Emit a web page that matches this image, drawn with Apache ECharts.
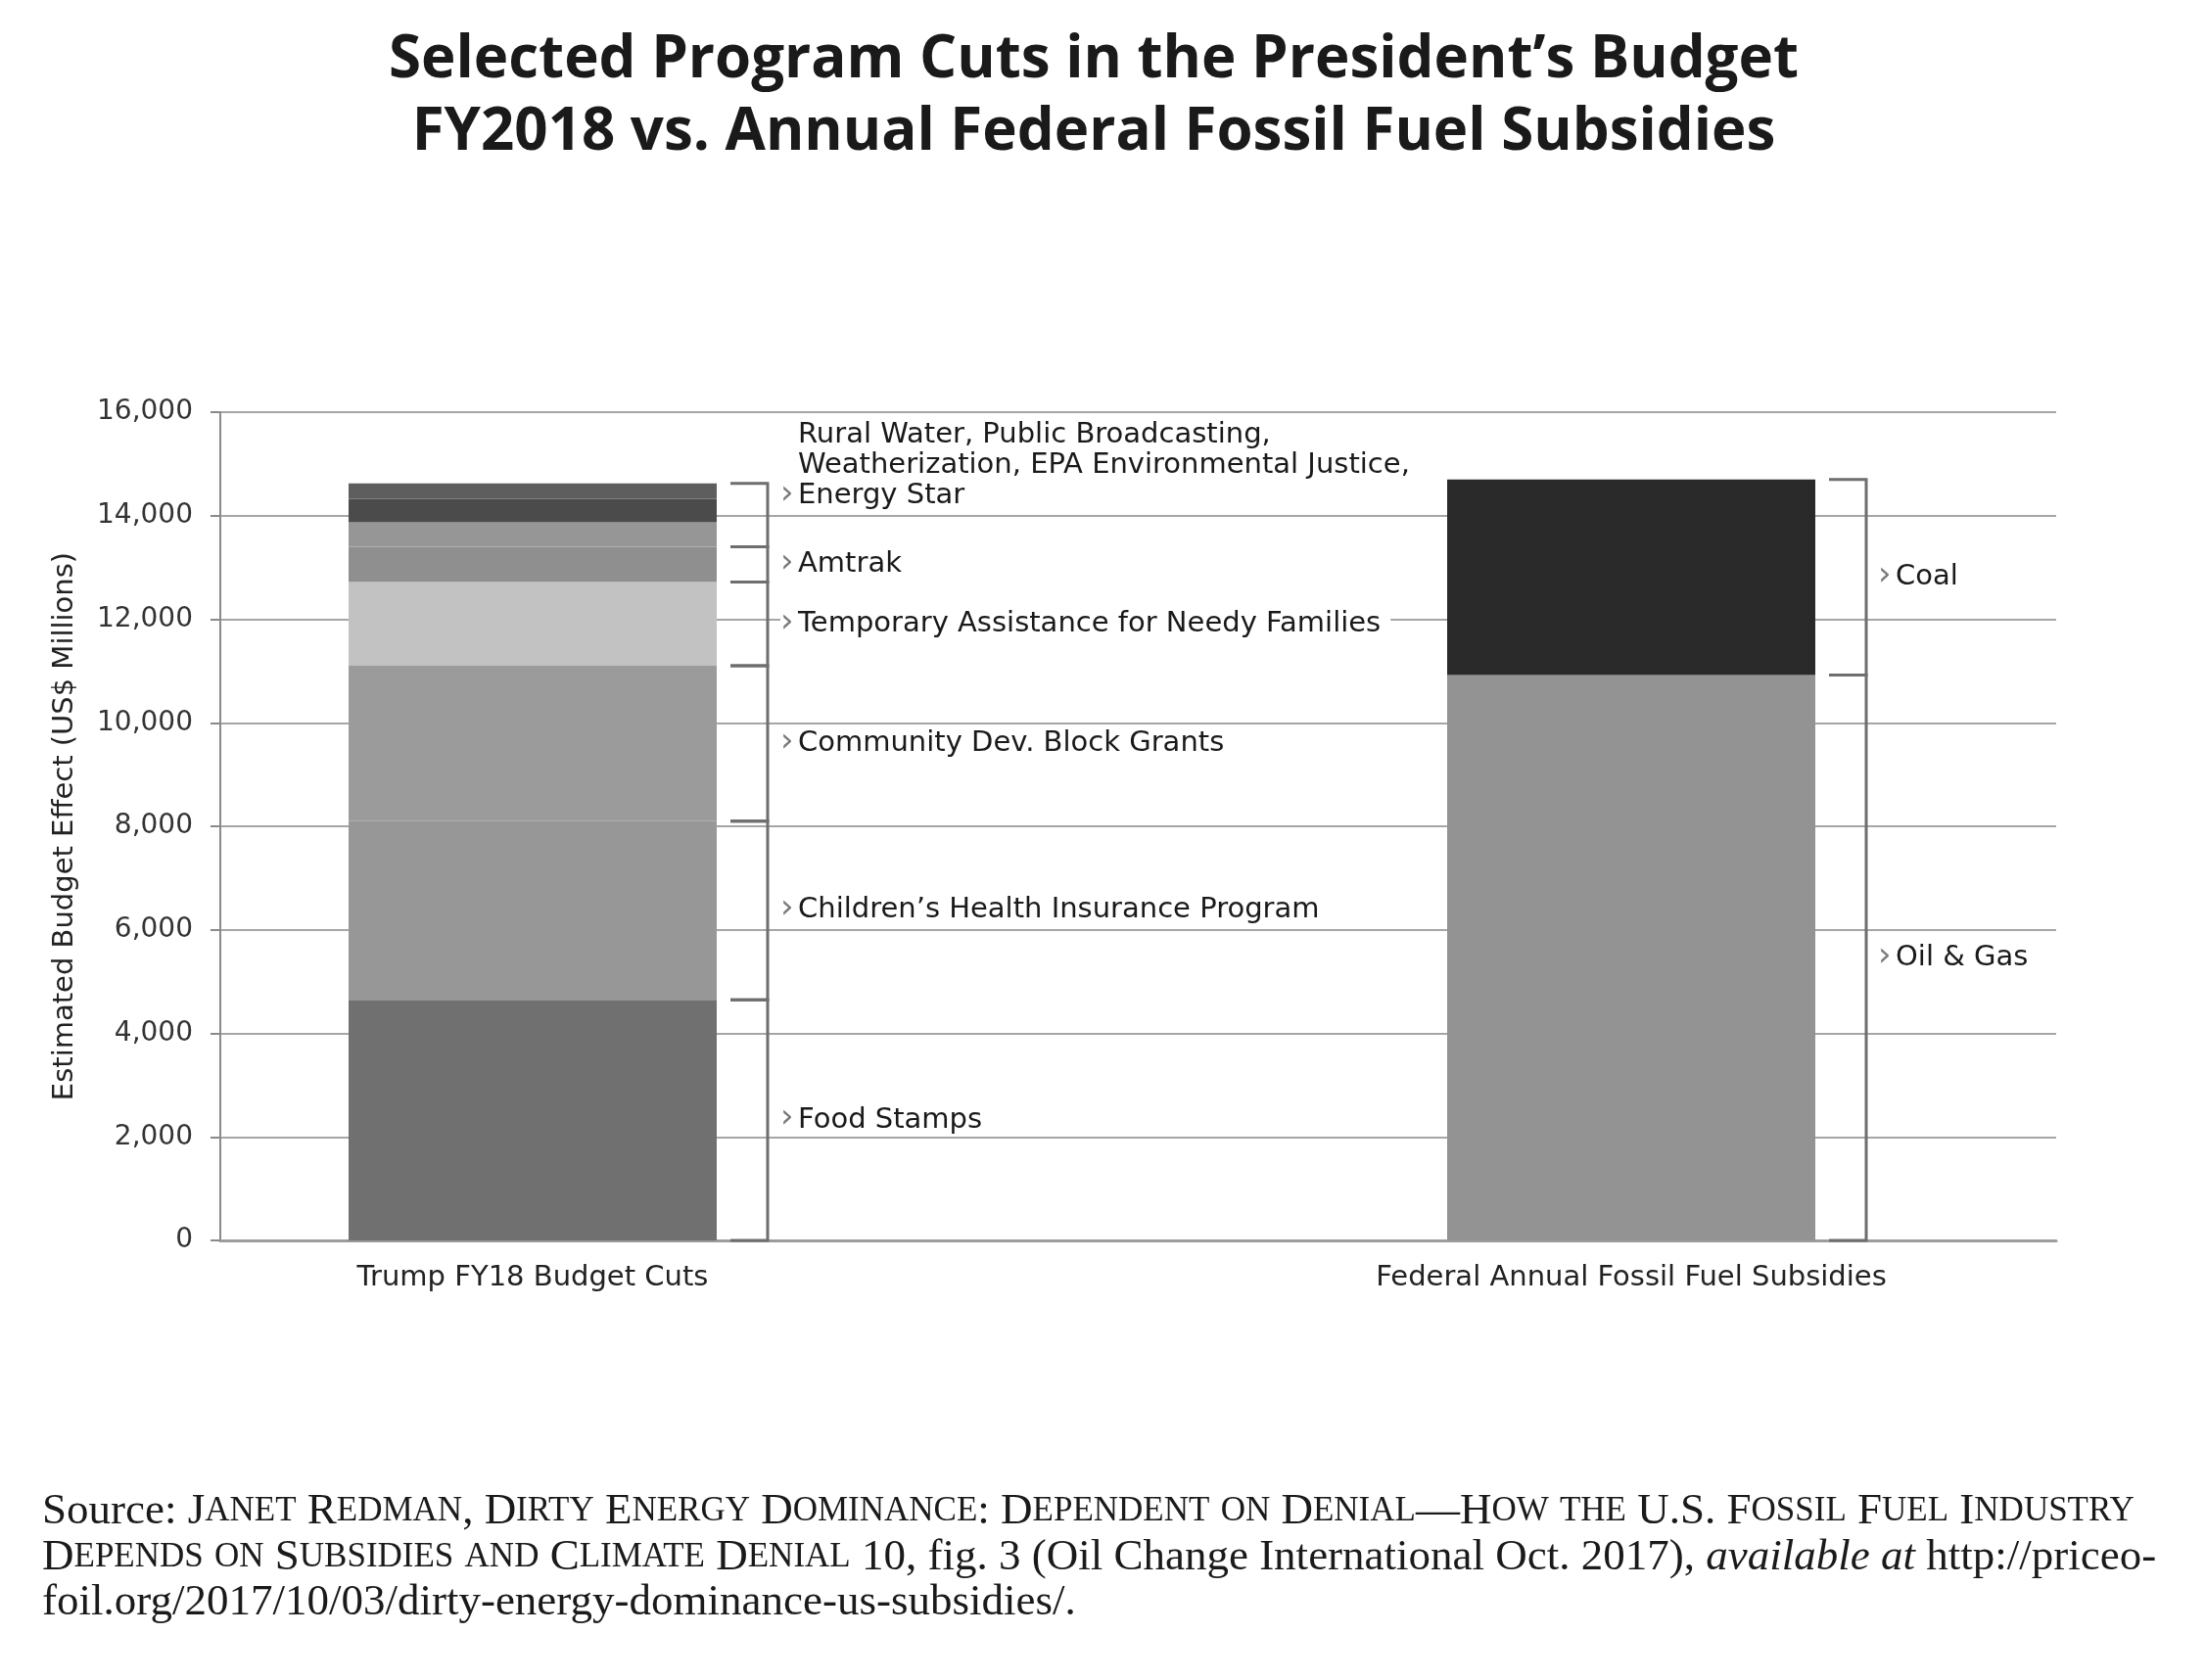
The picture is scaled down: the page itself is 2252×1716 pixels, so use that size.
<!DOCTYPE html>
<html>
<head>
<meta charset="utf-8">
<script src="https://cdn.jsdelivr.net/npm/echarts@6/dist/echarts.min.js"></script>
<style>
html,body{margin:0;padding:0;background:#fff;}
#chart{width:2252px;height:1716px;}
</style>
</head>
<body>
<div id="chart"></div>
<script>
// ---------------- DATA ----------------
const categories = ['Trump FY18 Budget Cuts', 'Federal Annual Fossil Fuel Subsidies'];

const cutNames = ['Food Stamps', 'Children\u2019s Health Insurance Program', 'Community Dev. Block Grants',
  'Temporary Assistance for Needy Families', 'Amtrak', 'Rural Water', 'Public Broadcasting',
  'Weatherization, EPA Environmental Justice, Energy Star'];
const cutValues = [4650, 3450, 3000, 1620, 680, 470, 455, 300];

const subsidyNames = ['Oil & Gas', 'Coal'];
const subsidyValues = [10920, 3780];

// bracket groups (index ranges into cutValues) and their label texts
const cutGroups = [[0, 0], [1, 1], [2, 2], [3, 3], [4, 4], [5, 7]];
const cutGroupLabels = ['Food Stamps', 'Children\u2019s Health Insurance Program', 'Community Dev. Block Grants',
  'Temporary Assistance for Needy Families', 'Amtrak',
  ['Rural Water, Public Broadcasting,', 'Weatherization, EPA Environmental Justice,', 'Energy Star']];

const yTicks = [0, 2000, 4000, 6000, 8000, 10000, 12000, 14000, 16000];
const yTickLabels = ['0', '2,000', '4,000', '6,000', '8,000', '10,000', '12,000', '14,000', '16,000'];

// ---------------- STYLE ----------------
const cutColors = ['#707070', '#979797', '#9b9b9b', '#c2c2c2', '#8f8f8f', '#969696', '#4b4b4b', '#5e5e5e'];
const subsidyColors = ['#939393', '#2a2a2a'];
const SANS = '"DejaVu Sans", "Open Sans", sans-serif';
const SERIF = '"Liberation Serif", "DejaVu Serif", serif';
const LBL = 29;

// ---------------- BUILD ----------------
const labelRich = {
  ar: { color: '#7a7a7a', width: 18, fontSize: 34, fontFamily: SANS, lineHeight: 31, padding: [0, 0, 3, 0] },
  sp: { width: 18, fontSize: LBL, lineHeight: 31 },
  t: { color: '#1a1a1a', fontSize: LBL, fontFamily: SANS, lineHeight: 31 }
};

const labelFor = {};
cutGroups.forEach((g, gi) => { labelFor[g[1]] = cutGroupLabels[gi]; });

const series = [];
cutNames.forEach((name, i) => {
  const lab = labelFor[i];
  let formatter = null;
  if (Array.isArray(lab)) {
    formatter = lab.map((l, k) => (k === lab.length - 1 ? '{ar|\u203A}' : '{sp| }') + '{t|' + l + '}').join('\n');
  } else if (lab) {
    formatter = '{ar|\u203A}{t|' + lab + '}';
  }
  series.push({
    type: 'bar', name: name, stack: 'all', xAxisIndex: 1, yAxisIndex: 1,
    barWidth: 376, clip: false,
    data: [cutValues[i], '-'],
    itemStyle: { color: cutColors[i] },
    label: {
      show: !!formatter, position: 'right', distance: 65,
      formatter: formatter, rich: labelRich, color: '#1a1a1a', fontSize: LBL, fontFamily: SANS,
      offset: Array.isArray(lab) ? [0, -26] : [0, 0],
      backgroundColor: (i === 3) ? '#fff' : 'transparent',
      padding: (i === 3) ? [0, 10, 0, 0] : 0
    },
    emphasis: { disabled: true }
  });
});
subsidyNames.forEach((name, i) => {
  series.push({
    type: 'bar', name: name, stack: 'all', xAxisIndex: 1, yAxisIndex: 1,
    barWidth: 376, clip: false,
    data: ['-', subsidyValues[i]],
    itemStyle: { color: subsidyColors[i] },
    label: {
      show: true, position: 'right', distance: 64,
      formatter: '{ar|\u203A}{t|' + name + '}', rich: labelRich
    },
    emphasis: { disabled: true }
  });
});

// bracket segments computed from cumulative sums
function cum(arr, n) { let s = 0; for (let k = 0; k < n; k++) s += arr[k]; return s; }
const bracketData = [];
cutGroups.forEach(g => bracketData.push([0, cum(cutValues, g[0]), cum(cutValues, g[1] + 1)]));
subsidyValues.forEach((v, i) => bracketData.push([1, cum(subsidyValues, i), cum(subsidyValues, i + 1)]));

series.push({
  type: 'custom', xAxisIndex: 1, yAxisIndex: 1, silent: true, z: 5,
  data: bracketData,
  renderItem: function (params, api) {
    const c = api.value(0);
    const p0 = api.coord([c, api.value(1)]);
    const p1 = api.coord([c, api.value(2)]);
    const x0 = p0[0] + 202, x1 = p0[0] + 240;
    return {
      type: 'polyline',
      shape: { points: [[x0, p0[1]], [x1, p0[1]], [x1, p1[1]], [x0, p1[1]]] },
      style: { stroke: '#6e6e6e', lineWidth: 3, fill: null }
    };
  }
});

// small caps helper for the source note
function sc(str) {
  let out = '', i = 0;
  const lower = ch => ch !== ch.toUpperCase();
  while (i < str.length) {
    const isL = lower(str[i]);
    let j = i;
    while (j < str.length && lower(str[j]) === isL) j++;
    const run = str.slice(i, j);
    out += isL ? '{s|' + run.toUpperCase() + '}' : '{n|' + run + '}';
    i = j;
  }
  return out;
}
const SRC = 45;
const srcRich = {
  n: { fontFamily: SERIF, fontSize: SRC, fontWeight: 'normal', color: '#1a1a1a', lineHeight: 46 },
  s: { fontFamily: SERIF, fontSize: Math.round(SRC * 0.77), fontWeight: 'normal', color: '#1a1a1a', lineHeight: 46 },
  i: { fontFamily: SERIF, fontSize: SRC, fontWeight: 'normal', fontStyle: 'italic', color: '#1a1a1a', lineHeight: 46 }
};
const srcLines = [
  '{n|Source: }' + sc('Janet Redman, Dirty Energy Dominance: Dependent on Denial\u2014How the U.S. Fossil Fuel Industry'),
  sc('Depends on Subsidies and Climate Denial') + '{n| 10, fig. 3 (Oil Change International Oct. 2017), }{i|available at}{n| http://priceo-}',
  '{n|foil.org/2017/10/03/dirty-energy-dominance-us-subsidies/.}'
];
const srcTops = [1521, 1568, 1614];

const titles = [{
  text: 'Selected Program Cuts in the President\u2019s Budget\nFY2018 vs. Annual Federal Fossil Fuel Subsidies',
  left: 1112, top: 20, textAlign: 'center',
  textStyle: { fontFamily: '"Open Sans", Lato, sans-serif', fontWeight: 'bold', fontSize: 60, lineHeight: 74, color: '#1a1a1a' }
}];
srcLines.forEach((t, k) => titles.push({
  text: t, left: 43, top: srcTops[k], padding: 0,
  textStyle: { rich: srcRich, fontFamily: SERIF, fontSize: SRC, fontWeight: 'normal' }
}));

const option = {
  backgroundColor: '#fff',
  animation: false,
  title: titles,
  grid: [
    { left: 225, right: 152, top: 421, bottom: 449 },
    { left: 544, right: 586, top: 421, bottom: 449 }
  ],
  xAxis: [
    { type: 'category', gridIndex: 0, data: [''],
      axisLine: { show: true, lineStyle: { color: '#9c9c9c', width: 3 } },
      axisTick: { show: false }, axisLabel: { show: false }, splitLine: { show: false } },
    { type: 'category', gridIndex: 1, data: categories, boundaryGap: false,
      axisLine: { show: false }, axisTick: { show: false },
      axisLabel: { color: '#222', fontSize: 29, fontFamily: SANS, margin: 24 } }
  ],
  yAxis: [
    { type: 'value', gridIndex: 0, min: 0, max: 16000, interval: 2000,
      name: 'Estimated Budget Effect (US$ Millions)', nameLocation: 'middle', nameGap: 144,
      nameTextStyle: { fontFamily: SANS, fontSize: 29, color: '#222' },
      axisLine: { show: true, lineStyle: { color: '#8a8a8a', width: 2 } },
      axisTick: { show: true, length: 10, lineStyle: { color: '#8a8a8a', width: 2 } },
      axisLabel: { margin: 28, fontFamily: SANS, fontSize: 28, color: '#333',
        formatter: v => yTickLabels[yTicks.indexOf(v)] },
      splitLine: { show: true, lineStyle: { color: '#a6a6a6', width: 2 } } },
    { type: 'value', gridIndex: 1, min: 0, max: 16000, interval: 2000, show: false,
      splitLine: { show: false } }
  ],
  series: series
};

const chart = echarts.init(document.getElementById('chart'), null, { renderer: 'canvas' });
chart.setOption(option);
</script>
</body>
</html>
